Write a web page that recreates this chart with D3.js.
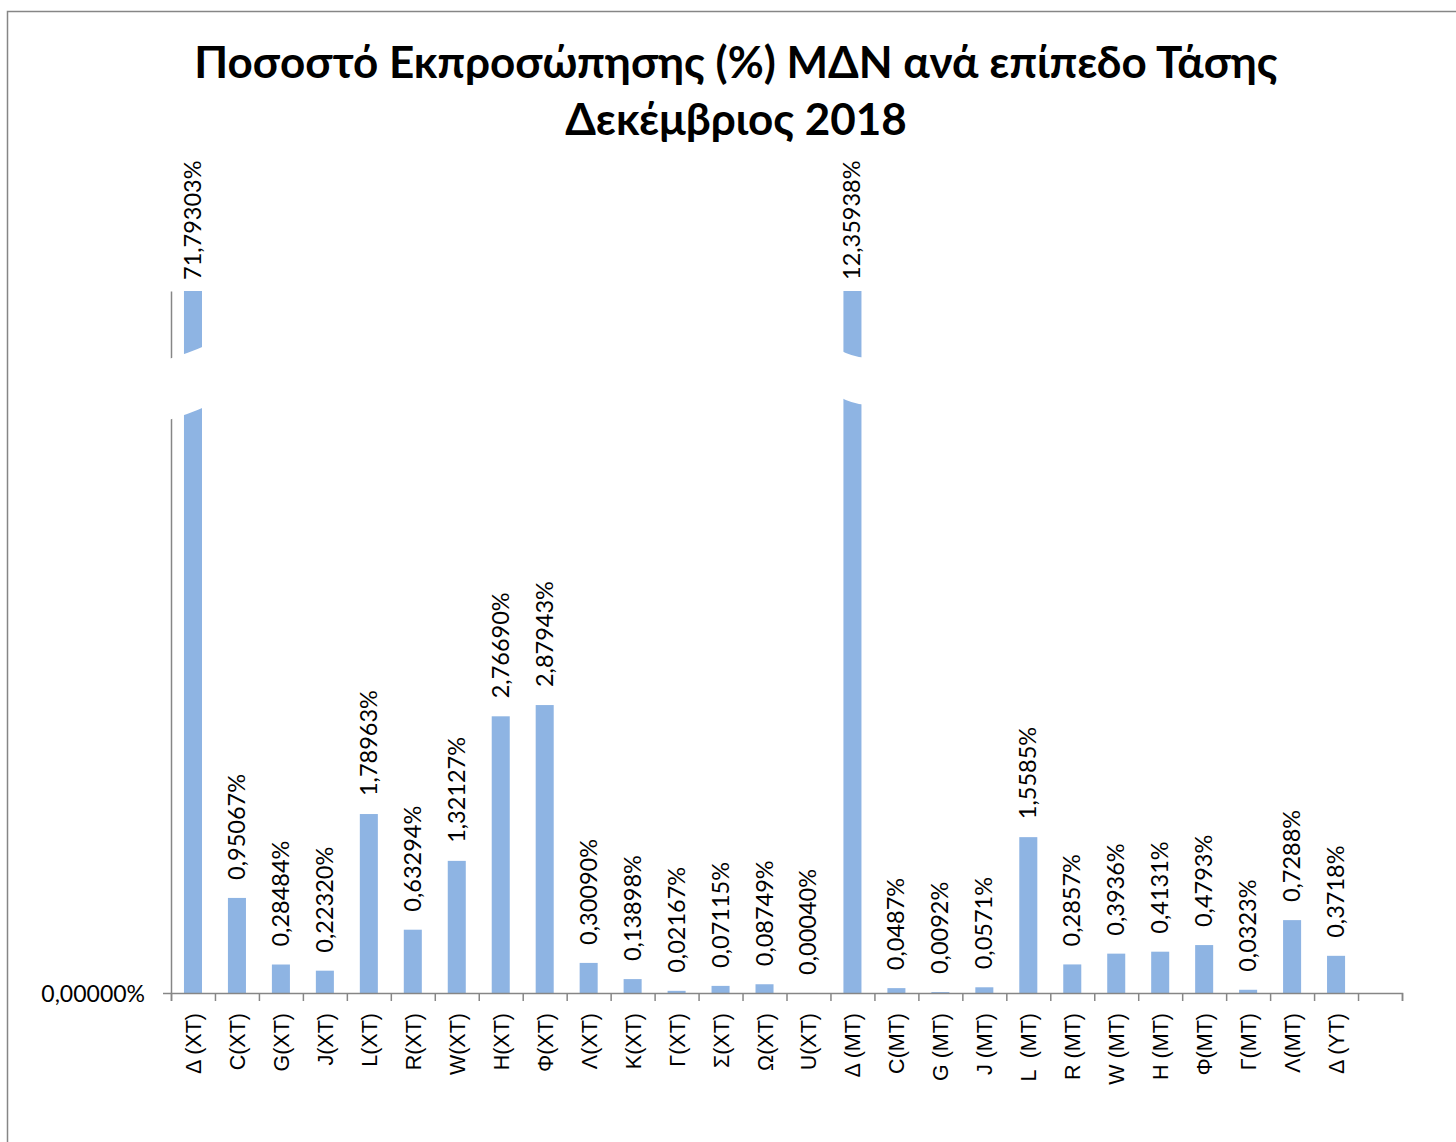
<!DOCTYPE html>
<html>
<head>
<meta charset="utf-8">
<script src="https://cdn.jsdelivr.net/npm/d3@7"></script>
<style>
  body { margin: 0; background: #fff; }
  svg { display: block; }
</style>
</head>
<body>
<script>
// categories along the x axis (last slot of the axis is left empty)
var categories = ['Δ (XT)', 'C(XT)', 'G(XT)', 'J(XT)', 'L(XT)', 'R(XT)', 'W(XT)', 'H(XT)', 'Φ(XT)', 'Λ(XT)',
  'K(XT)', 'Γ(XT)', 'Σ(XT)', 'Ω(XT)', 'U(XT)', 'Δ (MT)', 'C(MT)', 'G (MT)', 'J (MT)', 'L  (MT)',
  'R (MT)', 'W (MT)', 'H (MT)', 'Φ(MT)', 'Γ(MT)', 'Λ(MT)', 'Δ (YT)'];
// percentage per category
var values = [71.79303, 0.95067, 0.28484, 0.22320, 1.78963, 0.63294, 1.32127, 2.76690, 2.87943, 0.30090,
  0.13898, 0.02167, 0.07115, 0.08749, 0.00040, 12.35938, 0.0487, 0.0092, 0.0571, 1.5585,
  0.2857, 0.3936, 0.4131, 0.4793, 0.0323, 0.7288, 0.3718];
// decimals shown in each data label
var decimals = [5, 5, 5, 5, 5, 5, 5, 5, 5, 5, 5, 5, 5, 5, 5, 5, 4, 4, 4, 4, 4, 4, 4, 4, 4, 4, 4];
var yTicks = [0];
var titleLines = ['Ποσοστό Εκπροσώπησης (%) ΜΔΝ ανά επίπεδο Τάσης', 'Δεκέμβριος 2018'];

const W = 1456, H = 1142;
const plotLeft = 171, plotRight = 1402, plotTop = 291, plotBottom = 993;
const barColor = '#8eb4e3', axisColor = '#868686';
const calibri = 'Lato, "Open Sans", sans-serif';
const arial = '"Liberation Sans", Arial, sans-serif';

var data = categories.map(function (c, i) {
  return { cat: c, value: values[i], dec: decimals[i] };
});

const svg = d3.select('body').append('svg').attr('width', W).attr('height', H);

// chart frame
svg.append('rect')
  .attr('x', 7.5).attr('y', 11.5).attr('width', W + 20).attr('height', H + 20)
  .attr('fill', 'none').attr('stroke', axisColor).attr('stroke-width', 1.5);

// title
svg.append('text')
  .attr('x', 736).attr('y', 78)
  .attr('text-anchor', 'middle')
  .style('font-family', calibri).style('font-weight', 'bold').style('font-size', '44px')
  .selectAll('tspan').data(titleLines).enter().append('tspan')
  .attr('x', 736).attr('dy', function (d, i) { return i ? 57 : 0; })
  .text(function (d) { return d; });

const slots = categories.concat(['']);
const x = d3.scaleBand().domain(slots.map(function (d, i) { return i; }))
  .range([plotLeft, plotRight]).paddingInner(0.59).paddingOuter(0.295);
const y = d3.scaleLinear().domain([0, (plotBottom - plotTop) / 100]).range([plotBottom, plotTop]);
const clip = y.domain()[1];

const fmt = function (d) {
  return d3.format('.' + d.dec + 'f')(d.value).replace('.', ',') + '%';
};

// bars
const bars = svg.append('g');
bars.selectAll('rect').data(data).enter().append('rect')
  .attr('x', function (d, i) { return x(i); })
  .attr('y', function (d) { return y(Math.min(d.value, clip)); })
  .attr('width', x.bandwidth())
  .attr('height', function (d) { return plotBottom - y(Math.min(d.value, clip)); })
  .attr('fill', barColor);

// y axis (only 0 labelled)
const yAxis = svg.append('g').attr('transform', 'translate(' + plotLeft + ',0)')
  .call(d3.axisLeft(y).tickValues(yTicks).tickSize(8).tickSizeOuter(0)
    .tickFormat(function () { return '0,00000%'; }));
yAxis.selectAll('path, line').attr('stroke', axisColor).attr('stroke-width', 1.5);
yAxis.selectAll('text').attr('x', -26).attr('dy', '0.35em').attr('fill', '#000')
  .style('font-family', calibri).style('font-size', '23px');

// x axis: ticks on category boundaries
const xb = d3.scaleLinear().domain([0, slots.length]).range([plotLeft, plotRight]);
const xAxis = svg.append('g').attr('transform', 'translate(0,' + plotBottom + ')')
  .call(d3.axisBottom(xb).ticks(slots.length).tickSize(8).tickSizeOuter(8).tickFormat(''));
xAxis.selectAll('path, line').attr('stroke', axisColor).attr('stroke-width', 1.5);

// category labels
svg.append('g').selectAll('text').data(data).enter().append('text')
  .attr('transform', function (d, i) {
    return 'translate(' + (x(i) + x.bandwidth() / 2 + 8) + ',' + (plotBottom + 20) + ') rotate(-90)';
  })
  .attr('text-anchor', 'end')
  .style('font-family', arial).style('font-size', '21.5px')
  .style('white-space', 'pre')
  .text(function (d) { return d.cat; });

// data labels
svg.append('g').selectAll('text').data(data).enter().append('text')
  .attr('transform', function (d, i) {
    var yy = d.value > clip ? plotTop - 11 : y(d.value) - 18;
    return 'translate(' + (x(i) + x.bandwidth() / 2 + 8) + ',' + yy + ') rotate(-90)';
  })
  .style('font-family', calibri).style('font-size', '23.5px')
  .text(fmt);

// axis break marks on the clipped bars
function breakPath(x0, x1, yTop, slope, h, sag) {
  var xm = (x0 + x1) / 2;
  var ya = yTop, yb = yTop + slope * (x1 - x0);
  return 'M' + x0 + ',' + ya +
    ' Q' + xm + ',' + ((ya + yb) / 2 + sag) + ' ' + x1 + ',' + yb +
    ' L' + x1 + ',' + (yb + h) +
    ' Q' + xm + ',' + ((ya + yb) / 2 + h + sag) + ' ' + x0 + ',' + (ya + h) + ' Z';
}
data.forEach(function (d, i) {
  if (d.value <= clip) return;
  var bx = x(i);
  var p = i === 0 ? breakPath(plotLeft - 6, bx + x.bandwidth() + 6, 360, -0.36, 61, 2)
                  : breakPath(bx - 4, bx + x.bandwidth() + 4, 350, 0.3, 47, 3);
  svg.append('path').attr('d', p).attr('fill', '#fff');
});
</script>
</body>
</html>
